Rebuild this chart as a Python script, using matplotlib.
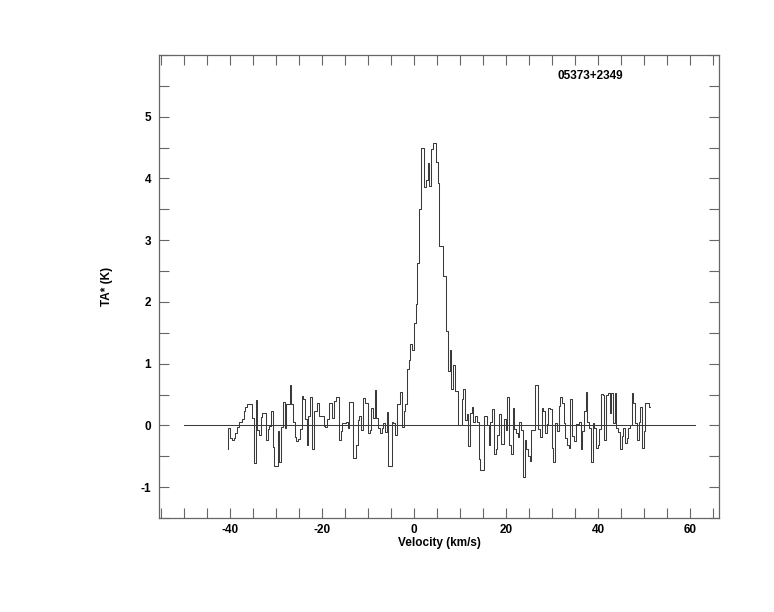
import matplotlib
matplotlib.use("Agg")
import matplotlib.pyplot as plt
import numpy as np
from matplotlib.ticker import MultipleLocator

plt.rcParams['font.family'] = ['Liberation Sans', 'DejaVu Sans']
plt.rcParams['axes.unicode_minus'] = False

# ---- data ----
source_name = "05373+2349"
v_start = -40.37          # km/s, left edge of first channel
channel_width = 0.37      # km/s
first_point = -0.38       # value at start of spectrum
ta_values = [
    -0.05, -0.20, -0.23, -0.20, -0.13, -0.03, 0.05, 0.06, 0.10, 0.23,
    0.30, 0.35, 0.35, 0.35, 0.12, -0.61, 0.41, -0.08, -0.16, 0.13,
    0.20, 0.20, -0.24, -0.06, -0.01, 0.23, -0.35, -0.66, -0.66, -0.09,
    -0.59, -0.03, 0.38, -0.04, 0.35, 0.35, 0.66, 0.35, 0.05, -0.19,
    -0.26, -0.22, -0.06, 0.47, 0.43, 0.10, -0.31, 0.16, 0.46, -0.38,
    0.24, 0.24, 0.37, 0.15, 0.15, 0.16, -0.01, -0.03, 0.11, 0.36,
    0.36, 0.12, 0.39, 0.46, 0.46, -0.23, -0.09, 0.04, 0.04, 0.05,
    -0.05, 0.38, 0.38, -0.53, -0.53, -0.32, 0.08, 0.15, -0.07, 0.44,
    0.37, 0.37, -0.13, -0.08, 0.28, 0.12, 0.58, 0.12, -0.04, -0.12,
    -0.04, 0.04, -0.11, 0.22, -0.66, -0.66, 0.05, 0.04, -0.15, 0.35,
    0.35, 0.54, -0.03, 0.24, 0.35, 0.92, 1.06, 1.32, 1.22, 1.66,
    1.96, 2.63, 3.50, 4.50, 4.50, 3.86, 3.98, 4.25, 3.87, 4.47,
    4.57, 4.57, 4.27, 3.93, 2.90, 2.90, 2.42, 2.42, 1.53, 0.88,
    1.22, 0.59, 0.98, 0.56, 0.56, 0.00, 0.00, 0.43, 0.59, 0.08,
    0.18, -0.33, 0.20, 0.30, 0.05, 0.16, 0.05, -0.54, -0.73, -0.73,
    0.16, 0.16, 0.01, -0.32, 0.06, 0.27, -0.46, -0.39, -0.16, 0.19,
    -0.30, -0.30, 0.10, -0.08, 0.46, -0.31, -0.46, 0.28, -0.06, -0.13,
    -0.19, 0.06, -0.08, -0.84, -0.24, -0.38, -0.50, -0.57, -0.07, -0.07,
    0.66, 0.66, -0.06, -0.19, 0.28, 0.23, -0.13, 0.03, 0.28, 0.27,
    -0.36, -0.59, 0.04, -0.09, 0.31, 0.46, 0.37, 0.04, -0.20, -0.31,
    -0.37, 0.42, -0.17, -0.25, 0.02, 0.02, 0.06, -0.39, -0.09, 0.23,
    0.54, 0.05, -0.04, -0.59, 0.04, -0.04, -0.36, -0.32, -0.06, 0.51,
    0.49, -0.23, 0.50, 0.52, 0.20, 0.52, 0.04, 0.53, -0.05, -0.11,
    -0.39, -0.17, -0.05, -0.29, -0.20, -0.05, 0.00, 0.53, 0.37, 0.04,
    -0.24, 0.05, 0.30, -0.36, -0.09, 0.37, 0.37, 0.30,
]
baseline_range = [-50.0, 61.0]
x_limits = [-55.4, 66.3]
y_limits = [-1.5, 6.0]
x_label_ticks = [-40, -20, 0, 20, 40, 60]
y_label_ticks = [-1, 0, 1, 2, 3, 4, 5]

# ---- figure ----
fig = plt.figure(figsize=(7.74, 6.12), dpi=100)
ax = fig.add_axes([159.3/774, 1-518/612, (719-159.3)/774, (518-55)/612])

n = len(ta_values)
vel = v_start + channel_width*np.arange(n+1)
yvals = [first_point] + ta_values
ax.step(vel, yvals, where='pre', color='#3a3a3a', lw=0.75)
ax.plot(baseline_range, [0, 0], color='#3a3a3a', lw=0.75)

ax.set_xlim(*x_limits)
ax.set_ylim(*y_limits)

ax.xaxis.set_minor_locator(MultipleLocator(5))
ax.yaxis.set_minor_locator(MultipleLocator(0.5))
ax.set_xticks(x_label_ticks)
ax.set_yticks(y_label_ticks)

for which in ('major', 'minor'):
    ax.tick_params(axis='both', which=which, direction='in', length=7,
                   width=0.8, color='#666666', top=True, right=True)
ax.tick_params(axis='x', which='major', pad=4, labelsize=8.5)
ax.tick_params(axis='y', which='major', pad=6, labelsize=8.5)
for lab in ax.get_xticklabels() + ax.get_yticklabels():
    lab.set_fontweight('bold')

for s in ax.spines.values():
    s.set_color('#666666')
    s.set_linewidth(0.9)

ax.set_xlabel('Velocity (km/s)', fontsize=8.5, fontweight='bold', labelpad=1)
ax.set_ylabel('TA* (K)', fontsize=8.5, fontweight='bold', labelpad=20)

ax.text(0.711, 0.955, source_name, transform=ax.transAxes, fontsize=8.5,
        fontweight='bold', ha='left', va='center')

fig.savefig('out.png', dpi=100)
